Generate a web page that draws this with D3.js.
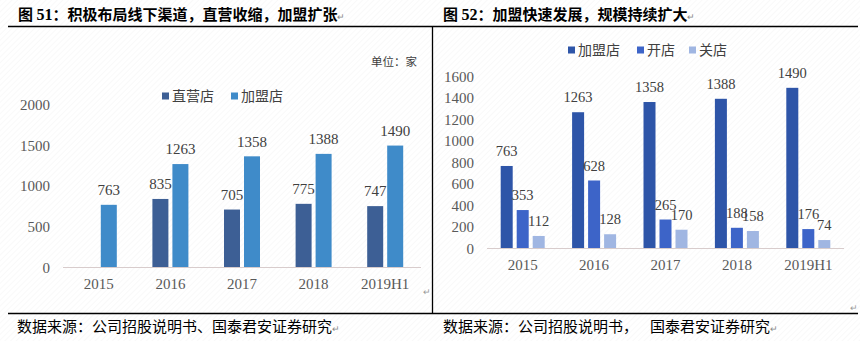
<!DOCTYPE html>
<html><head><meta charset="utf-8">
<script src="https://cdn.jsdelivr.net/npm/d3@7"></script>
<style>
html,body{margin:0;padding:0;background:#fff;}
svg{display:block;}
</style></head>
<body>
<svg id="c" width="860" height="341"></svg>
<script>
// ---- data ----
const categories = ["2015","2016","2017","2018","2019H1"];
const directStores = [null, 835, 705, 775, 747];
const franchiseStores = [763, 1263, 1358, 1388, 1490];
const leftTicks = [0, 500, 1000, 1500, 2000];

const franchiseTotal = [763, 1263, 1358, 1388, 1490];
const openedStores = [353, 628, 265, 188, 176];
const closedStores = [112, 128, 170, 158, 74];
const rightTicks = [0, 200, 400, 600, 800, 1000, 1200, 1400, 1600];

const leftSeries = [
  {name: "直营店", values: directStores, color: "#3d5f95"},
  {name: "加盟店", values: franchiseStores, color: "#3f8bc9"}
];
const rightSeries = [
  {name: "加盟店", values: franchiseTotal, color: "#2e55a8"},
  {name: "开店", values: openedStores, color: "#3d64c8"},
  {name: "关店", values: closedStores, color: "#a0b6e2"}
];

const svg = d3.select("#c");
const serif = "'Liberation Serif','Times New Roman',serif";
const cjk = "'Noto Sans CJK SC','Noto Sans',sans-serif";

// background hatch
const defs = svg.append("defs");
const pat = defs.append("pattern").attr("id","hatch").attr("width",4).attr("height",4)
  .attr("patternUnits","userSpaceOnUse").attr("patternTransform","rotate(45)");
pat.append("rect").attr("width",4).attr("height",4).attr("fill","#ffffff");
pat.append("line").attr("x1",0).attr("y1",0).attr("x2",0).attr("y2",4).attr("stroke","#f3f3f3").attr("stroke-width",1);
svg.append("rect").attr("width",860).attr("height",341).attr("fill","url(#hatch)");

// frame lines
const frame = svg.append("g").attr("stroke","#000").attr("stroke-width",1.3);
frame.append("line").attr("x1",8).attr("x2",858).attr("y1",26.5).attr("y2",26.5);
frame.append("line").attr("x1",8).attr("x2",858).attr("y1",313.5).attr("y2",313.5);
frame.append("line").attr("x1",432.5).attr("x2",432.5).attr("y1",26).attr("y2",314);

// titles
function title(x, num, text) {
  const t = svg.append("text").attr("x", x).attr("y", 20).attr("font-size", 15).attr("font-weight", "bold").attr("fill","#000");
  t.append("tspan").attr("font-family", cjk).text("图 ");
  t.append("tspan").attr("font-family", serif).attr("font-size",16).text(num);
  t.append("tspan").attr("font-family", cjk).text("：" + text);
  t.append("tspan").attr("font-family", cjk).attr("font-weight","normal").attr("font-size",9).attr("fill","#888").text("↵");
}
title(18, "51", "积极布局线下渠道，直营收缩，加盟扩张");
title(443, "52", "加盟快速发展，规模持续扩大");

// sources
function source(x, parts) {
  const t = svg.append("text").attr("x", x).attr("y", 332).attr("font-size", 15).attr("font-family", cjk).attr("fill","#000");
  parts.forEach((p, i) => t.append("tspan").attr("dx", i > 0 ? 12 : 0).text(p));
  t.append("tspan").attr("font-size",9).attr("fill","#888").text("↵");
}
source(17, ["数据来源：公司招股说明书、国泰君安证券研究"]);
source(443, ["数据来源：公司招股说明书，", "国泰君安证券研究"]);

function smallMark(x, y) {
  svg.append("text").attr("x",x).attr("y",y).attr("font-size",9).attr("fill","#999").attr("font-family",cjk).text("↵");
}
smallMark(423, 295);
smallMark(850, 311);

// ---------- generic chart ----------
function drawChart(opt) {
  const g = svg.append("g");
  const x = d3.scaleBand().domain(categories).range([opt.x0, opt.x1]).paddingInner(0).paddingOuter(0);
  const y = d3.scaleLinear().domain([0, opt.yMax]).range([opt.y0, opt.yTop]);
  const n = opt.series.length;
  const groupW = n * opt.barW + (n - 1) * opt.gap;
  const sub = d3.scaleBand().domain(d3.range(n)).range([0, groupW]).paddingInner(opt.gap / (opt.barW + opt.gap)).paddingOuter(0);

  // y axis (labels only)
  const yAxis = d3.axisLeft(y).tickValues(opt.ticks).tickSize(0).tickPadding(0).tickFormat(d3.format("d"));
  const ya = g.append("g").attr("transform", `translate(${opt.yLabelX},0)`).call(yAxis);
  ya.select(".domain").remove();
  ya.selectAll("text").attr("font-family", serif).attr("font-size", 15).attr("fill", "#595959").attr("dy","0.35em");

  // baseline
  g.append("line").attr("x1", opt.x0).attr("x2", opt.x1).attr("y1", opt.y0 + 0.5).attr("y2", opt.y0 + 0.5)
    .attr("stroke", "#d8cccc").attr("stroke-width", 1);

  // x axis labels
  const xAxis = d3.axisBottom(x).tickSize(0).tickPadding(0);
  const xa = g.append("g").attr("transform", `translate(0,${opt.xLabelY})`).call(xAxis);
  xa.select(".domain").remove();
  xa.selectAll("text").attr("font-family", serif).attr("font-size", 15).attr("fill", "#595959").attr("dy","0.35em");

  // bars
  opt.series.forEach((s, si) => {
    const data = categories.map((c, i) => ({c, v: s.values[i]})).filter(d => d.v != null);
    const off = x.bandwidth() / 2 - groupW / 2 + sub(si);
    g.append("g").selectAll("rect").data(data).join("rect")
      .attr("x", d => x(d.c) + off)
      .attr("width", opt.barW)
      .attr("y", d => y(d.v))
      .attr("height", d => opt.y0 - y(d.v))
      .attr("fill", s.color);
    g.append("g").selectAll("text").data(data).join("text")
      .attr("x", d => x(d.c) + off + opt.barW / 2)
      .attr("y", d => y(d.v) - 15)
      .attr("dy", "0.35em")
      .attr("text-anchor", "middle")
      .attr("font-family", serif).attr("font-size", opt.labelSize).attr("fill", "#404040")
      .text(d => d.v);
  });

  // legend
  const lg = g.append("g");
  opt.series.forEach((s, si) => {
    const lx = opt.legendX[si];
    lg.append("rect").attr("x", lx).attr("y", opt.legendY - 3.5).attr("width", 7).attr("height", 7).attr("fill", s.color);
    lg.append("text").attr("x", lx + 10).attr("y", opt.legendY).attr("dy", "0.35em")
      .attr("font-family", cjk).attr("font-size", 14).attr("fill", "#404040").text(s.name);
  });
}

drawChart({
  series: leftSeries, x0: 63, x1: 421, y0: 267, yTop: 104, yMax: 2000, ticks: leftTicks,
  barW: 16, gap: 4, yLabelX: 50, xLabelY: 284, legendX: [162, 231], legendY: 96, labelSize: 15
});

drawChart({
  series: rightSeries, x0: 487, x1: 844, y0: 248, yTop: 76, yMax: 1600, ticks: rightTicks,
  barW: 12, gap: 4, yLabelX: 474, xLabelY: 265, legendX: [568, 637, 689], legendY: 50, labelSize: 14.5
});

// unit label
svg.append("text").attr("x", 417).attr("y", 62).attr("dy","0.35em").attr("text-anchor","end")
  .attr("font-family", cjk).attr("font-size", 11.5).attr("fill","#404040").text("单位：家");
</script>
</body></html>
